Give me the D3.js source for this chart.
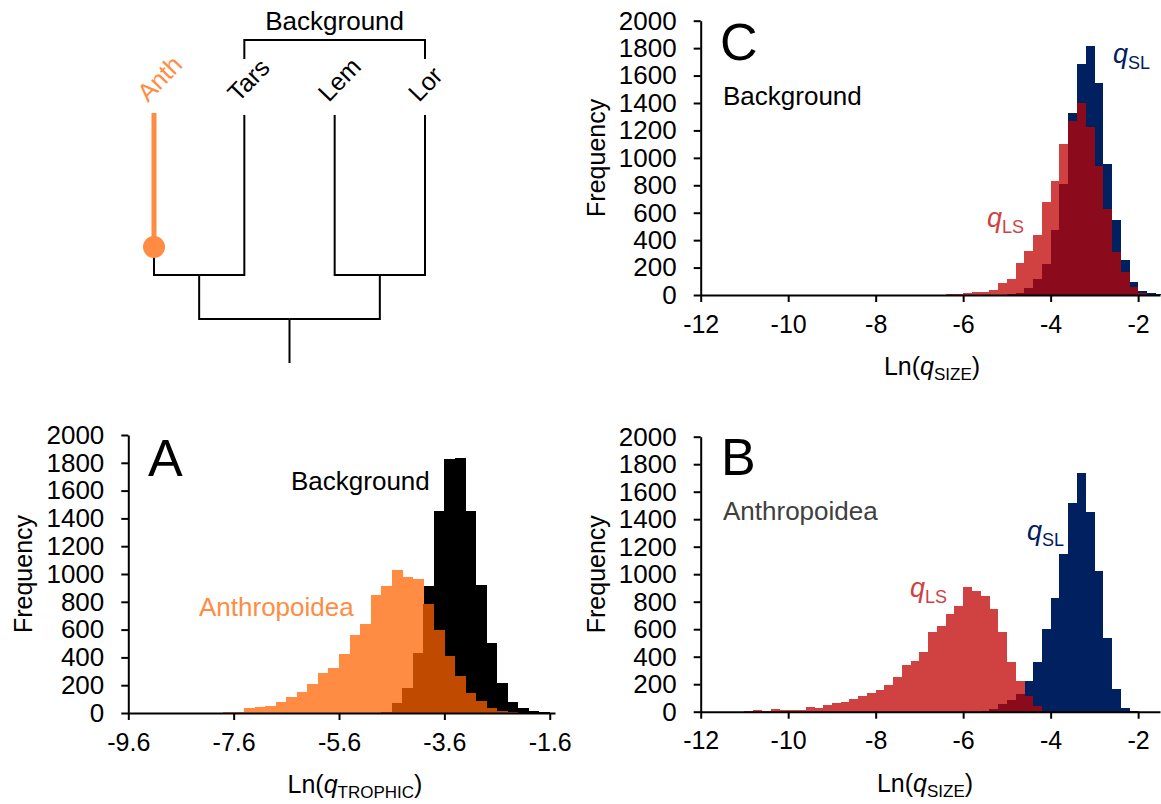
<!DOCTYPE html>
<html>
<head>
<meta charset="utf-8">
<script src="https://cdn.jsdelivr.net/npm/d3@7"></script>
<style>
  body { margin: 0; background: #fff; }
  svg { display: block; font-family: "Liberation Sans", Arial, sans-serif; }
</style>
</head>
<body>
<div id="container"></div>
<script>
/* CONSTANTS AND GLOBALS */
const width = 1161;
const height = 804;
const binWidth = 0.2;

// panel A : Ln(q TROPHIC), bins of 0.2 starting at -8.0
const trophicStart = -8.0;
const anthTrophic = [2, 5, 10, 34, 46, 52, 81, 117, 149, 209, 285, 321, 422, 561, 640, 851, 916, 1029, 976, 962,
  782, 597, 412, 268, 142, 86, 34, 15, 5, 0, 0, 0, 0];
const backTrophic = [0, 0, 0, 0, 0, 0, 0, 0, 0, 0, 0, 0, 0, 0, 0, 0, 10, 70, 178, 429,
  916, 1455, 1830, 1835, 1455, 921, 501, 218, 81, 38, 15, 5, 2];

// panel C : background lineages, Ln(q SIZE), bins start at -6.6
const backSizeStart = -6.6;
const backLS = [3, 5, 9, 16, 22, 24, 36, 85, 114, 231, 321, 438, 680, 831, 1099, 1271, 1402, 1223, 941, 627,
  316, 165, 56, 12, 3, 0];
const backSL = [0, 0, 0, 0, 0, 0, 2, 3, 5, 15, 49, 114, 225, 474, 809, 1325, 1682, 1818, 1548, 953,
  547, 255, 97, 29, 12, 4];

// panel B : anthropoidea, Ln(q SIZE), bins start at -11.0
const anthSizeStart = -11.0;
const anthLS = [7, 16, 7, 19, 14, 14, 14, 36, 27, 48, 61, 68, 90, 116, 136, 158, 194, 255, 337, 371,
  436, 577, 626, 711, 771, 907, 878, 845, 747, 577, 364, 226, 114, 41, 5, 0, 0, 0, 0, 0, 0, 0, 0, 0, 0];
const anthSL = [0, 0, 0, 0, 0, 0, 0, 0, 0, 0, 0, 0, 0, 0, 0, 0, 0, 0, 0, 0,
  0, 0, 0, 0, 0, 0, 0, 5, 17, 53, 82, 129, 226, 364, 601, 824, 1145, 1520, 1738, 1450, 1023, 534, 163, 29, 3];

const freqTicks = [0, 200, 400, 600, 800, 1000, 1200, 1400, 1600, 1800, 2000];
const trophicTicks = [-9.6, -7.6, -5.6, -3.6, -1.6];
const sizeTicks = [-12, -10, -8, -6, -4, -2];

const taxa = ["Anth", "Tars", "Lem", "Lor"];

const orange = "#ff8c42";
const brown = "#c04b00";
const red = "#d04141";
const darkRed = "#8b0b1c";
const navy = "#002060";

let svg;

/* INITIALIZING FUNCTION */
function init() {
  svg = d3.select("#container")
    .append("svg")
    .attr("width", width)
    .attr("height", height);

  drawTree();

  // panel A
  let xA = d3.scaleLinear().domain([-9.6, -1.5]).range([128.3, 555]);
  let yA = d3.scaleLinear().domain([0, 2000]).range([713, 435]);
  const gA = svg.append("g");
  drawHist(gA, xA, yA, trophicStart, backTrophic, anthTrophic, "#000", orange, brown);
  drawAxes(gA, xA, yA, trophicTicks, d => d.toFixed(1), "TROPHIC", 355);
  letter(gA, "A", 148, 476);
  gA.append("text").attr("x", 291).attr("y", 490).attr("font-size", 26).text("Background");
  gA.append("text").attr("x", 199).attr("y", 616).attr("font-size", 26).attr("fill", orange).text("Anthropoidea");

  // panel C
  let xC = d3.scaleLinear().domain([-12, -1.5]).range([700.7, 1160]);
  let yC = d3.scaleLinear().domain([0, 2000]).range([295, 20.7]);
  const gC = svg.append("g");
  drawHist(gC, xC, yC, backSizeStart, backSL, backLS, navy, red, darkRed);
  drawAxes(gC, xC, yC, sizeTicks, d => String(d), "SIZE", 932);
  letter(gC, "C", 720, 60);
  gC.append("text").attr("x", 723).attr("y", 105).attr("font-size", 26).text("Background");
  qLabel(gC, "SL", 1113, 63, navy);
  qLabel(gC, "LS", 987, 227, red);

  // panel B
  let xB = d3.scaleLinear().domain([-12, -1.5]).range([700.7, 1160]);
  let yB = d3.scaleLinear().domain([0, 2000]).range([711.7, 436.7]);
  const gB = svg.append("g");
  drawHist(gB, xB, yB, anthSizeStart, anthSL, anthLS, navy, red, darkRed);
  drawAxes(gB, xB, yB, sizeTicks, d => String(d), "SIZE", 925);
  letter(gB, "B", 721, 475);
  gB.append("text").attr("x", 723).attr("y", 520).attr("font-size", 26).attr("fill", "#404040").text("Anthropoidea");
  qLabel(gB, "LS", 910, 597, red);
  qLabel(gB, "SL", 1027, 540, navy);
}

/* TREE */
function drawTree() {
  const root = d3.hierarchy({
    children: [
      { children: [{ name: taxa[0] }, { name: taxa[1] }] },
      { children: [{ name: taxa[2] }, { name: taxa[3] }] }
    ]
  });
  d3.cluster().size([1, 2]).separation(() => 1)(root);
  const leaves = root.leaves();

  // leaves spread from the anthropoid tip to the lorises
  const tx = d3.scaleLinear().domain(d3.extent(leaves, d => d.x)).range([154, 425]);
  const ty = d3.scaleLinear().domain([0, 1, 2]).range([319, 275, 115]);

  const g = svg.append("g")
    .attr("fill", "none")
    .attr("stroke", "#000")
    .attr("stroke-width", 2);

  g.selectAll("path.link")
    .data(root.links())
    .join("path")
    .attr("class", "link")
    .attr("d", d => `M${tx(d.target.x)},${ty(d.target.y)}V${ty(d.source.y)}H${tx(d.source.x)}`);

  // root stem
  g.append("path").attr("d", `M${tx(root.x)},${ty(0) + 44}V${ty(0)}`);

  // bracket over the background lineages
  const bx0 = tx(leaves[1].x), bx1 = tx(leaves[3].x);
  g.append("path").attr("d", `M${bx0},59V40H${bx1}V59`);
  svg.append("text")
    .attr("x", (bx0 + bx1) / 2)
    .attr("y", 30)
    .attr("text-anchor", "middle")
    .attr("font-size", 26)
    .text("Background");

  // anthropoid branch
  const ax = tx(leaves[0].x);
  svg.append("line")
    .attr("x1", ax).attr("x2", ax)
    .attr("y1", 113).attr("y2", 247)
    .attr("stroke", orange)
    .attr("stroke-width", 5);
  svg.append("circle")
    .attr("cx", ax).attr("cy", 247).attr("r", 11)
    .attr("fill", orange);

  svg.selectAll("text.taxon")
    .data(leaves)
    .join("text")
    .attr("class", "taxon")
    .attr("transform", d => `translate(${tx(d.x) - 6},103) rotate(-46)`)
    .attr("font-size", 25)
    .attr("fill", (d, i) => i === 0 ? orange : "#000")
    .text(d => d.data.name);
}

/* HISTOGRAMS */
function drawHist(g, x, y, start, back, front, backColor, frontColor, bothColor) {
  const bins = back.map((n, i) => ({
    x0: start + i * binWidth,
    x1: start + (i + 1) * binWidth,
    back: n,
    front: front[i],
    both: Math.min(n, front[i])
  }));

  const layers = [["back", backColor], ["front", frontColor], ["both", bothColor]];
  layers.forEach(([key, color]) => {
    g.append("g")
      .attr("shape-rendering", "crispEdges")
      .selectAll("rect")
      .data(bins.filter(d => d[key] > 0))
      .join("rect")
      .attr("x", d => x(d.x0))
      .attr("width", d => x(d.x1) - x(d.x0) + 0.3)
      .attr("y", d => y(d[key]))
      .attr("height", d => y(0) - y(d[key]))
      .attr("fill", color);
  });
}

function drawAxes(g, x, y, xTicks, fmt, sub, titleX) {
  const xAxis = d3.axisBottom(x)
    .tickValues(xTicks)
    .tickFormat(fmt)
    .tickSize(7)
    .tickPadding(13)
    .tickSizeOuter(0);
  const yAxis = d3.axisLeft(y)
    .tickValues(freqTicks)
    .tickFormat(d3.format("d"))
    .tickSize(7)
    .tickPadding(17)
    .tickSizeOuter(0);

  const xg = g.append("g")
    .attr("transform", `translate(0,${y(0)})`)
    .call(xAxis);
  const yg = g.append("g")
    .attr("transform", `translate(${x.range()[0]},0)`)
    .call(yAxis);

  [xg, yg].forEach(a => {
    a.attr("font-family", null).attr("font-size", 25);
    a.selectAll("path, line").attr("stroke", "#000").attr("stroke-width", 2);
    a.selectAll("text").attr("fill", "#000");
  });
  yg.attr("font-size", 26);

  // x title
  const t = g.append("text")
    .attr("x", titleX)
    .attr("y", y(0) + 80)
    .attr("text-anchor", "middle")
    .attr("font-size", 25);
  t.append("tspan").text("Ln(");
  t.append("tspan").attr("font-style", "italic").text("q");
  t.append("tspan").attr("font-size", 17).attr("dy", 5).text(sub);
  t.append("tspan").attr("dy", -5).text(")");

  // y title
  g.append("text")
    .attr("transform", `translate(${x.range()[0] - 96},${(y(0) + y(2000)) / 2}) rotate(-90)`)
    .attr("text-anchor", "middle")
    .attr("font-size", 25)
    .text("Frequency");
}

function letter(g, s, x, y) {
  g.append("text").attr("x", x).attr("y", y).attr("font-size", 52).text(s);
}

function qLabel(g, sub, x, y, color) {
  const t = g.append("text").attr("x", x).attr("y", y).attr("fill", color).attr("font-size", 27);
  t.append("tspan").attr("font-style", "italic").text("q");
  t.append("tspan").attr("font-size", 18).attr("dy", 6).text(sub);
}

init();
</script>
</body>
</html>
